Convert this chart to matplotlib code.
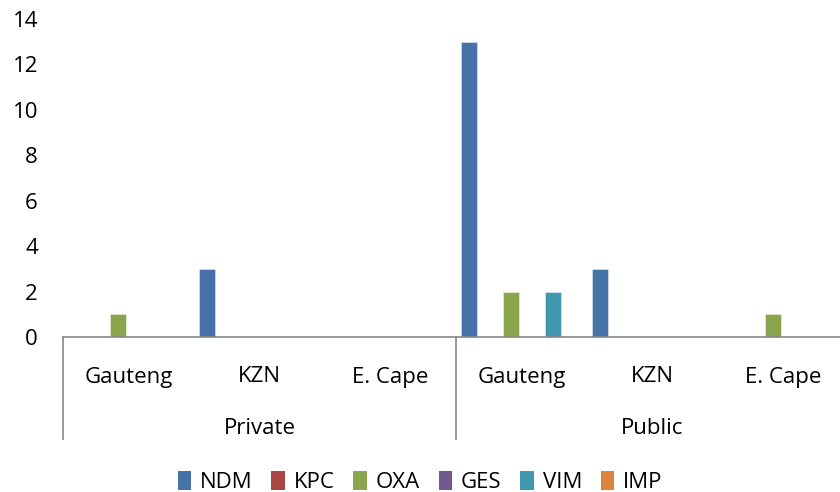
import matplotlib
matplotlib.use("Agg")
import matplotlib.pyplot as plt
import numpy as np
from matplotlib.transforms import blended_transform_factory
from matplotlib.patches import Patch

plt.rcParams['font.family'] = ['Open Sans', 'DejaVu Sans']

groups = ["Private", "Public"]
regions = ["Gauteng", "KZN", "E. Cape"]
categories = regions * 2
series_names = ["NDM", "KPC", "OXA", "GES", "VIM", "IMP"]
NDM = [0, 3, 0, 13, 3, 0]
KPC = [0, 0, 0, 0, 0, 0]
OXA = [1, 0, 0, 2, 0, 1]
GES = [0, 0, 0, 0, 0, 0]
VIM = [0, 0, 0, 2, 0, 0]
IMP = [0, 0, 0, 0, 0, 0]
series = [NDM, KPC, OXA, GES, VIM, IMP]
colors = ["#4572A7", "#AA4643", "#89A54E", "#71588F", "#4198AF", "#DB843D"]

W, H = 840, 492
fig = plt.figure(figsize=(W / 100, H / 100), dpi=100)
left, right = 63 / W, 849 / W
bottom, top = 1 - 337 / H, 1 - 19 / H
ax = fig.add_axes([left, bottom, right - left, top - bottom])

x = np.arange(len(categories))
step = 0.159
bw = 0.122
for i, (vals, c) in enumerate(zip(series, colors)):
    off = (i - 2.5) * step
    ax.bar(x + off, vals, width=bw, color=c, edgecolor=(1, 1, 1, 0.5), linewidth=0.6, zorder=2)

FS = 16
ax.set_xlim(-0.5, len(categories) - 0.5)
ax.set_ylim(0, 14)
ax.set_yticks(np.arange(0, 15, 2))
ax.tick_params(axis='y', length=0, pad=18, labelsize=FS)
ax.tick_params(axis='x', length=0)
ax.set_xticks([])
for s in ["top", "right", "left"]:
    ax.spines[s].set_visible(False)
ax.spines["bottom"].set_color("#878787")
ax.spines["bottom"].set_linewidth(1.2)

trans = blended_transform_factory(ax.transData, ax.transAxes)
ax_h_px = 337 - 19
def ypix(p):
    return (337 - p) / ax_h_px

for xi, lab in zip(x, categories):
    ax.text(xi, ypix(377), lab, transform=trans, ha='center', va='center', fontsize=FS)
for gi, g in enumerate(groups):
    ax.text(gi * 3 + 1, ypix(428), g, transform=trans, ha='center', va='center', fontsize=FS)
for bx in [-0.5, 2.5, 5.5]:
    ax.plot([bx, bx], [0, ypix(439)], transform=trans, color="#878787", lw=1.2, clip_on=False)

handles = [Patch(facecolor=c, edgecolor='none', label=n) for n, c in zip(series_names, colors)]
fig.legend(handles=handles, loc='center', bbox_to_anchor=(0.5, 1 - 482 / H), ncol=6,
           frameon=False, fontsize=FS, handlelength=0.6, handleheight=0.9,
           handletextpad=0.4, columnspacing=0.85)

fig.savefig("out.png", dpi=100)
